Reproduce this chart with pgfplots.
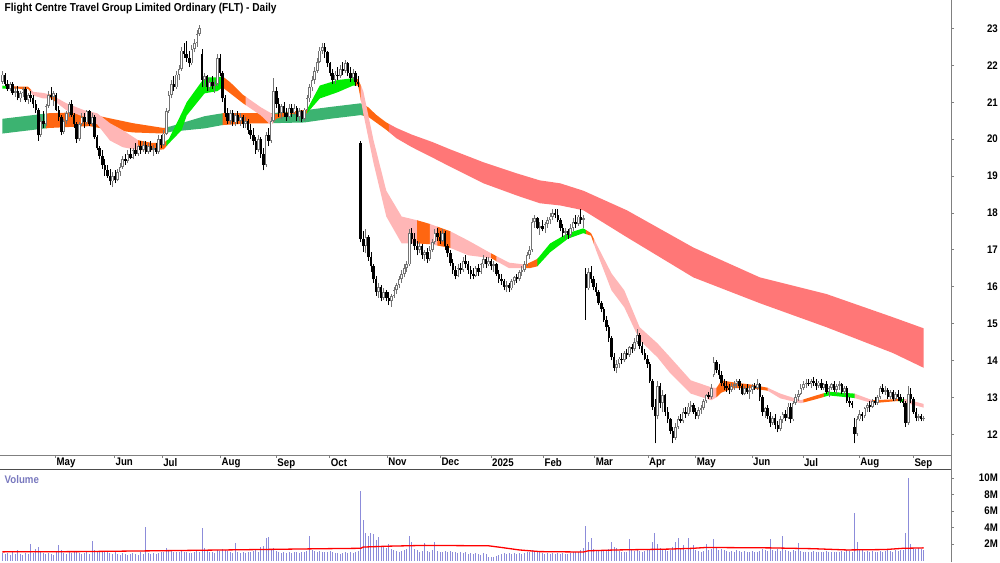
\documentclass[border=0pt]{standalone}
\usepackage{fontspec}
\setmainfont{Liberation Sans}
\newfontfamily\lbl[FakeStretch=0.88]{Liberation Sans}
\usepackage{pgfplots}
\pgfplotsset{compat=1.18}
\usepgfplotslibrary{fillbetween}
\usepackage{pgfplotstable}
\definecolor{sgreen}{RGB}{60,179,113}
\definecolor{ribor}{RGB}{255,102,17}
\definecolor{ribred}{RGB}{255,119,119}
\definecolor{ribpink}{RGB}{255,182,182}
\definecolor{ribgreen}{RGB}{0,238,0}
\definecolor{volc}{RGB}{140,140,218}
\definecolor{axgray}{RGB}{128,128,128}
\definecolor{vollab}{RGB}{120,120,190}

\pgfplotstableread{
i o h l c v
0 21.55 21.85 21.5 21.75 0.9
1 21.75 21.8 21.45 21.5 0.8
2 21.5 21.6 21.3 21.35 0.9
3 21.35 21.55 21.3 21.5 0.7
4 21.5 21.55 21.2 21.25 1.0
5 21.25 21.4 21.15 21.3 0.8
6 21.3 21.45 21.05 21.1 1.3
7 21.1 21.3 21.0 21.25 0.8
8 21.25 21.4 21.15 21.35 0.7
9 21.35 21.4 21.0 21.05 0.9
10 21.05 21.25 20.95 21.2 0.8
11 21.2 21.3 21.0 21.1 2.0
12 21.1 21.2 20.85 20.95 0.9
13 20.95 21.05 20.7 20.8 1.4
14 20.8 20.85 19.95 20.1 1.6
15 20.1 20.6 20.05 20.5 1.1
16 20.5 20.75 20.3 20.4 0.9
17 20.4 20.95 20.35 20.9 0.8
18 20.9 21.3 20.85 21.2 0.9
19 21.2 21.4 21.05 21.15 0.8
20 21.15 21.3 20.9 21.25 0.7
21 21.2 21.25 20.75 20.8 1.0
22 20.8 20.9 20.5 20.6 1.9
23 20.6 20.65 20.1 20.2 1.3
24 20.2 20.55 20.15 20.5 0.9
25 20.5 20.75 20.4 20.7 0.8
26 20.7 21.0 20.6 20.95 1.1
27 20.95 21.05 20.6 20.65 0.9
28 20.65 20.7 20.3 20.4 1.0
29 20.4 20.45 19.9 20.0 1.2
30 20.0 20.45 19.95 20.4 0.9
31 20.4 20.7 20.35 20.6 0.8
32 20.6 20.7 20.3 20.45 0.9
33 20.45 20.8 20.4 20.75 1.0
34 20.75 20.8 20.35 20.4 0.8
35 20.4 20.7 20.35 20.6 2.4
36 20.6 20.65 20.0 20.05 1.3
37 20.05 20.1 19.7 19.75 1.1
38 19.75 19.8 19.45 19.55 1.0
39 19.55 19.7 19.2 19.3 1.2
40 19.3 19.45 19.0 19.15 1.0
41 19.15 19.3 18.95 19.0 1.1
42 19.0 19.2 18.75 18.85 0.9
43 18.85 19.1 18.7 19.0 0.8
44 19.0 19.15 18.8 18.9 1.0
45 18.9 19.2 18.85 19.1 0.8
46 19.1 19.35 19.0 19.25 0.7
47 19.25 19.55 19.2 19.45 0.9
48 19.45 19.6 19.3 19.4 0.8
49 19.4 19.7 19.35 19.6 0.7
50 19.6 19.75 19.45 19.5 0.8
51 19.5 19.75 19.45 19.7 0.9
52 19.7 19.9 19.55 19.6 0.8
53 19.6 19.85 19.55 19.8 0.7
54 19.8 19.95 19.6 19.7 1.0
55 19.7 19.95 19.65 19.85 0.8
56 19.85 19.95 19.6 19.65 4.1
57 19.65 19.9 19.6 19.8 0.9
58 19.8 19.95 19.65 19.7 0.8
59 19.7 19.85 19.55 19.75 0.9
60 19.75 19.9 19.6 19.65 0.8
61 19.65 20.1 19.6 20.0 0.9
62 20.0 20.1 19.75 19.85 1.0
63 19.85 20.25 19.8 20.15 1.1
64 20.15 20.85 20.1 20.75 1.5
65 20.75 21.3 20.7 21.2 1.3
66 21.2 21.6 21.1 21.5 1.2
67 21.5 21.7 21.3 21.4 1.0
68 21.4 21.85 21.35 21.75 1.1
69 21.75 22.0 21.6 21.9 1.0
70 21.9 22.5 21.85 22.4 1.3
71 22.4 22.6 22.2 22.3 1.1
72 22.3 22.65 22.1 22.2 1.0
73 22.2 22.4 21.95 22.05 0.9
74 22.05 22.55 22.0 22.45 0.9
75 22.45 22.7 22.35 22.6 1.0
76 22.6 22.95 22.5 22.85 1.2
77 22.85 23.1 22.8 23.0 1.1
78 22.3 22.45 21.4 21.6 3.9
79 21.6 21.8 21.4 21.7 1.5
80 21.7 21.75 21.3 21.4 1.2
81 21.4 21.65 21.3 21.55 1.0
82 21.55 21.7 21.35 21.45 1.1
83 21.45 21.6 21.25 21.5 0.9
84 21.5 22.3 21.45 22.2 1.3
85 22.2 22.3 21.7 21.8 1.2
86 21.8 21.85 21.0 21.1 1.4
87 21.1 21.2 20.6 20.7 1.3
88 20.7 20.85 20.4 20.5 1.2
89 20.5 20.8 20.4 20.7 1.0
90 20.7 20.8 20.35 20.45 0.9
91 20.45 20.7 20.35 20.65 2.1
92 20.65 20.75 20.4 20.5 1.0
93 20.5 20.7 20.35 20.6 0.9
94 20.6 20.65 20.3 20.4 1.0
95 20.4 20.6 20.3 20.5 0.9
96 20.5 20.55 20.15 20.25 1.1
97 20.25 20.4 20.0 20.1 1.0
98 20.1 20.3 19.85 19.95 1.2
99 19.95 20.05 19.6 19.7 1.4
100 19.7 20.1 19.65 20.0 1.1
101 20.0 20.05 19.5 19.6 1.6
102 19.6 19.75 19.15 19.3 1.8
103 19.3 20.2 19.25 20.1 2.8
104 20.1 20.3 19.8 19.95 2.9
105 19.95 20.6 19.9 20.5 1.3
106 20.5 21.65 20.45 21.3 1.5
107 21.3 21.4 20.85 20.95 1.2
108 20.95 21.1 20.6 20.7 1.0
109 20.7 20.95 20.55 20.9 0.9
110 20.9 21.0 20.6 20.7 1.1
111 20.7 20.85 20.5 20.6 0.9
112 20.6 20.95 20.55 20.85 1.0
113 20.85 20.95 20.6 20.7 0.9
114 20.7 20.95 20.65 20.85 1.0
115 20.85 20.9 20.5 20.6 1.1
116 20.6 20.85 20.5 20.75 0.9
117 20.75 20.8 20.45 20.55 1.0
118 20.55 20.85 20.5 20.8 1.1
119 20.8 21.2 20.75 21.1 1.2
120 21.1 21.5 21.0 21.4 3.0
121 21.4 21.7 21.3 21.6 1.3
122 21.6 21.95 21.5 21.85 1.2
123 21.85 22.2 21.8 22.1 1.1
124 22.1 22.5 22.05 22.4 1.2
125 22.4 22.6 22.3 22.5 1.0
126 22.5 22.6 22.2 22.35 1.1
127 22.35 22.4 21.95 22.05 1.0
128 22.05 22.1 21.7 21.8 1.2
129 21.8 21.9 21.5 21.6 1.0
130 21.6 21.85 21.5 21.75 0.9
131 21.75 21.95 21.6 21.7 0.9
132 21.7 22.0 21.65 21.9 0.8
133 21.9 22.1 21.75 21.85 0.9
134 21.85 22.15 21.8 22.05 1.0
135 22.05 22.1 21.7 21.8 0.9
136 21.8 21.95 21.55 21.65 1.0
137 21.65 21.9 21.6 21.8 0.9
138 21.8 21.85 21.45 21.55 1.1
139 21.55 21.7 21.4 21.5 1.2
140 19.9 19.95 17.2 17.3 8.4
141 17.3 17.5 16.95 17.1 4.9
142 17.1 17.55 16.9 17.35 3.3
143 17.35 17.4 16.7 16.8 3.0
144 16.8 16.95 16.4 16.55 3.3
145 16.55 16.6 16.1 16.2 3.2
146 16.2 16.3 15.75 15.85 2.5
147 15.85 16.1 15.7 16.0 2.9
148 16.0 16.05 15.6 15.7 1.8
149 15.7 15.95 15.65 15.85 1.6
150 15.85 15.9 15.6 15.7 1.5
151 15.7 15.85 15.5 15.6 2.0
152 15.6 15.8 15.45 15.75 1.4
153 15.75 16.0 15.7 15.9 1.3
154 15.9 16.1 15.8 16.05 1.2
155 16.05 16.3 15.95 16.2 1.1
156 16.2 16.45 16.1 16.35 1.2
157 16.35 16.6 16.25 16.5 1.3
158 16.5 16.7 16.4 16.6 1.4
159 16.6 17.55 16.55 17.45 3.0
160 17.45 17.6 17.15 17.3 2.3
161 17.3 17.45 17.0 17.1 1.4
162 17.1 17.25 16.85 17.0 1.3
163 17.0 17.2 16.9 17.1 1.1
164 17.1 17.15 16.75 16.85 1.2
165 16.85 17.0 16.7 16.95 2.1
166 16.95 17.05 16.65 16.75 1.2
167 16.75 17.1 16.7 17.0 1.1
168 17.0 17.3 16.95 17.2 1.3
169 17.2 17.55 17.15 17.45 2.3
170 17.45 17.6 17.25 17.35 1.2
171 17.35 17.5 17.15 17.25 1.1
172 17.25 17.55 17.2 17.45 1.0
173 17.45 17.5 17.0 17.1 1.2
174 17.1 17.15 16.8 16.9 1.1
175 16.9 17.0 16.55 16.65 1.2
176 16.65 16.75 16.35 16.45 1.0
177 16.45 16.55 16.2 16.3 1.1
178 16.3 16.6 16.25 16.5 0.9
179 16.5 16.65 16.35 16.45 1.0
180 16.45 16.8 16.4 16.7 0.9
181 16.7 16.85 16.5 16.6 1.0
182 16.6 16.7 16.35 16.45 0.8
183 16.45 16.55 16.2 16.35 0.9
184 16.35 16.5 16.2 16.3 0.8
185 16.3 16.55 16.25 16.5 0.9
186 16.5 16.6 16.3 16.4 0.8
187 16.4 16.65 16.35 16.6 0.7
188 16.6 16.85 16.5 16.75 0.9
189 16.75 16.8 16.5 16.6 0.8
190 16.6 16.8 16.55 16.7 0.5
191 16.7 16.75 16.45 16.55 0.4
192 16.55 16.7 16.4 16.6 0.5
193 16.6 16.65 16.3 16.35 0.6
194 16.35 16.45 16.1 16.2 0.7
195 16.2 16.35 16.05 16.15 0.8
196 16.15 16.2 15.9 16.0 0.9
197 16.0 16.15 15.85 16.05 0.8
198 16.05 16.1 15.85 15.95 0.9
199 15.95 16.2 15.9 16.15 0.8
200 16.15 16.3 16.05 16.25 0.9
201 16.25 16.35 16.1 16.2 0.8
202 16.2 16.45 16.15 16.4 0.9
203 16.4 16.55 16.3 16.45 0.8
204 16.45 16.7 16.4 16.6 0.9
205 16.6 16.95 16.55 16.85 1.0
206 16.85 17.1 16.75 17.0 1.1
207 17.0 17.85 16.95 17.75 1.3
208 17.75 17.95 17.6 17.85 1.2
209 17.85 17.9 17.55 17.6 1.1
210 17.6 17.75 17.4 17.65 1.0
211 17.65 17.8 17.5 17.55 0.9
212 17.55 17.75 17.45 17.7 0.8
213 17.7 17.9 17.6 17.8 0.9
214 17.8 18.0 17.7 17.9 0.8
215 17.9 18.1 17.8 18.0 0.9
216 18.0 18.1 17.85 17.95 0.8
217 17.95 18.1 17.75 17.8 0.9
218 17.8 17.85 17.5 17.6 0.8
219 17.6 17.7 17.35 17.45 0.9
220 17.45 17.6 17.3 17.5 0.8
221 17.5 17.55 17.3 17.4 0.8
222 17.4 17.7 17.35 17.6 0.9
223 17.6 17.85 17.5 17.75 1.0
224 17.75 17.95 17.6 17.7 1.1
225 17.7 17.95 17.65 17.9 1.0
226 17.9 18.1 17.7 17.8 1.3
227 17.8 17.95 17.6 17.85 1.5
228 16.35 16.5 15.1 15.95 4.2
229 15.95 16.5 15.9 16.4 2.2
230 16.4 16.55 16.1 16.2 2.8
231 16.2 16.3 15.9 16.0 1.4
232 16.0 16.1 15.75 15.85 1.2
233 15.85 15.9 15.5 15.55 1.3
234 15.55 15.6 15.3 15.4 1.2
235 15.4 15.45 15.05 15.1 1.3
236 15.1 15.2 14.8 14.9 1.3
237 14.9 14.95 14.5 14.6 1.4
238 14.6 14.65 14.0 14.1 2.2
239 14.1 14.2 13.7 13.8 1.6
240 13.8 14.0 13.65 13.9 1.5
241 13.9 14.1 13.8 14.05 1.2
242 14.05 14.2 13.9 14.0 1.1
243 14.0 14.25 13.95 14.2 1.0
244 14.2 14.3 14.05 14.15 1.0
245 14.15 14.4 14.1 14.35 2.6
246 14.35 14.45 14.2 14.3 1.3
247 14.3 14.6 14.25 14.5 1.2
248 14.5 14.85 14.45 14.7 1.3
249 14.7 14.75 14.3 14.4 1.2
250 14.4 14.5 14.15 14.2 1.1
251 14.2 14.3 14.0 14.05 1.2
252 14.05 14.15 13.8 13.9 1.3
253 13.9 13.95 13.4 13.45 1.4
254 13.45 13.5 12.65 12.75 2.2
255 12.75 12.95 11.75 12.5 3.3
256 12.5 13.45 12.4 13.3 2.0
257 13.3 13.4 12.7 12.85 1.5
258 12.85 13.2 12.6 13.05 1.4
259 13.05 13.1 12.5 12.6 1.3
260 12.6 12.75 12.3 12.4 1.2
261 12.4 12.45 12.0 12.1 1.3
262 12.1 12.2 11.75 11.9 1.6
263 11.9 12.3 11.85 12.2 2.2
264 12.2 12.5 12.15 12.4 2.8
265 12.4 12.55 12.3 12.35 1.5
266 12.35 12.7 12.3 12.6 1.9
267 12.6 12.75 12.45 12.55 1.3
268 12.55 12.85 12.5 12.75 2.7
269 12.75 12.9 12.6 12.8 1.4
270 12.8 12.85 12.55 12.6 1.9
271 12.6 12.7 12.4 12.5 1.3
272 12.5 12.75 12.4 12.65 1.2
273 12.65 12.8 12.55 12.7 1.1
274 12.7 12.95 12.65 12.9 1.2
275 12.9 13.1 12.85 13.05 2.0
276 13.05 13.15 12.95 13.0 1.3
277 13.0 13.35 12.95 13.25 1.4
278 13.6 14.1 13.55 13.95 2.6
279 13.95 14.0 13.65 13.75 1.5
280 13.75 13.9 13.5 13.6 1.3
281 13.6 13.7 13.3 13.4 1.4
282 13.4 13.5 13.2 13.3 1.3
283 13.3 13.45 13.15 13.25 1.2
284 13.25 13.35 13.1 13.2 1.1
285 13.2 13.4 13.15 13.3 1.2
286 13.3 13.45 13.2 13.35 1.1
287 13.35 13.5 13.25 13.45 1.3
288 13.45 13.5 13.2 13.3 1.2
289 13.3 13.35 13.05 13.1 1.1
290 13.1 13.3 13.05 13.25 1.2
291 13.25 13.35 13.1 13.15 1.1
292 13.15 13.3 12.95 13.2 1.0
293 13.2 13.35 13.1 13.3 1.2
294 13.3 13.4 13.2 13.25 1.1
295 13.25 13.5 13.2 13.35 1.0
296 13.35 13.4 12.9 13.0 1.2
297 13.0 13.05 12.5 12.6 1.4
298 12.6 12.75 12.45 12.7 1.3
299 12.7 12.8 12.4 12.5 1.2
300 12.5 12.6 12.2 12.3 2.6
301 12.3 12.5 12.25 12.45 1.3
302 12.45 12.55 12.15 12.25 1.2
303 12.25 12.35 12.05 12.15 1.4
304 12.15 12.5 12.1 12.4 1.2
305 12.4 12.6 12.3 12.55 3.0
306 12.55 12.65 12.35 12.45 1.3
307 12.45 12.85 12.4 12.75 1.2
308 12.75 12.85 12.3 12.4 1.1
309 12.4 12.9 12.35 12.85 1.3
310 12.85 13.1 12.8 13.0 1.2
311 13.0 13.2 12.9 13.1 2.1
312 13.1 13.35 13.05 13.25 1.2
313 13.25 13.45 13.2 13.35 1.1
314 13.35 13.5 13.25 13.4 1.0
315 13.4 13.5 13.3 13.35 1.1
316 13.35 13.5 13.25 13.45 1.0
317 13.45 13.55 13.3 13.4 1.2
318 13.4 13.5 13.2 13.3 1.1
319 13.3 13.45 13.25 13.4 1.0
320 13.4 13.5 13.2 13.25 1.1
321 13.25 13.4 13.2 13.35 1.0
322 13.35 13.45 13.1 13.15 1.2
323 13.15 13.3 13.0 13.25 1.1
324 13.25 13.4 13.2 13.35 1.0
325 13.35 13.45 13.15 13.2 1.1
326 13.2 13.35 13.1 13.3 1.1
327 13.3 13.45 13.2 13.35 1.0
328 13.35 13.4 13.1 13.15 1.2
329 13.15 13.3 13.05 13.25 1.1
330 13.25 13.3 12.85 12.9 1.3
331 12.9 13.0 12.75 12.85 1.2
332 12.85 12.9 12.7 12.8 1.1
333 12.2 12.45 11.75 12.0 5.8
334 12.0 12.5 11.95 12.4 2.2
335 12.4 12.65 12.35 12.55 1.4
336 12.55 12.6 12.35 12.5 1.3
337 12.5 12.75 12.45 12.7 1.1
338 12.7 12.85 12.6 12.8 1.2
339 12.8 12.9 12.6 12.75 1.1
340 12.75 12.95 12.7 12.9 1.2
341 12.9 13.0 12.8 12.85 1.0
342 12.85 13.05 12.8 13.0 1.1
343 13.0 13.3 12.95 13.25 1.2
344 13.25 13.35 13.1 13.15 1.1
345 13.15 13.3 13.05 13.2 1.2
346 13.2 13.25 12.95 13.0 1.3
347 13.0 13.2 12.95 13.15 1.2
348 13.15 13.2 12.9 12.95 1.1
349 12.95 13.15 12.9 13.1 1.3
350 13.1 13.2 12.9 13.0 1.2
351 13.0 13.1 12.85 12.9 1.3
352 12.9 13.0 12.75 12.85 1.3
353 12.85 12.9 12.2 12.3 3.3
354 12.3 13.3 12.25 13.1 10.0
355 13.1 13.25 12.85 12.95 2.0
356 12.95 13.0 12.55 12.6 1.5
357 12.6 12.7 12.35 12.45 1.4
358 12.45 12.55 12.35 12.5 1.5
359 12.5 12.55 12.35 12.4 1.4
360 12.4 12.5 12.35 12.45 1.3
}\candles

\begin{document}
\begin{tikzpicture}[x=1pt,y=1pt]
\node[anchor=west, inner sep=0pt, font=\lbl\bfseries\fontsize{11.5}{13}\selectfont] at (4pt,-8pt) {Flight Centre Travel Group Limited Ordinary (FLT) - Daily};
\begin{axis}[
  at={(0pt,0pt)}, anchor=north west, scale only axis,
  width=951pt, height=455pt,
  xmin=-0.78, xmax=370.7, ymin=11.431, ymax=23.759,
  axis x line*=bottom, axis y line*=right,
  axis line style={-, draw=axgray, line width=0.8pt},
  tick align=outside, major tick length=3pt,
  tick style={draw=axgray, line width=0.6pt},
  xtick={20.7,43.75,62.4,85.2,107.0,127.9,150.3,171.1,190.9,211.4,231.4,252.2,270.9,292.9,312.8,334.8,355.97},
  xticklabels={May,Jun,Jul,Aug,Sep,Oct,Nov,Dec,2025,Feb,Mar,Apr,May,Jun,Jul,Aug,Sep},
  xticklabel style={anchor=north west, inner sep=0pt, xshift=1pt, yshift=0pt, font=\lbl\bfseries\fontsize{11}{12}\selectfont},
  ytick={12,13,...,23},
  yticklabel style={anchor=east, inner sep=0pt, xshift=44pt, font=\lbl\bfseries\fontsize{11}{12}\selectfont},
  /pgf/number format/assume math mode=true,
]
% long ribbon
\addplot[draw=none, name path=LU, forget plot] coordinates {(0,20.55) (12,20.65) (18,20.70) (27,20.72) (34,20.70) (38,20.62) (51,20.43) (63,20.30) (66,20.35) (79,20.62) (86,20.70) (95,20.70) (105,20.70) (118,20.78) (128,20.87) (140,20.97) (143,20.86) (146,20.66) (150,20.45) (154,20.30) (160,20.12) (168,19.92) (175,19.72) (188,19.37) (201,19.07) (210,18.88) (218,18.80) (227,18.60) (244,18.07) (270,17.06) (296,16.25) (322,15.80) (348,15.17) (360,14.87)};
\addplot[draw=none, name path=LL, forget plot] coordinates {(0,20.15) (12,20.25) (18,20.30) (27,20.33) (34,20.35) (38,20.30) (51,20.18) (63,20.15) (66,20.20) (79,20.29) (86,20.38) (95,20.42) (105,20.43) (118,20.45) (128,20.55) (140,20.65) (143,20.60) (146,20.45) (150,20.25) (154,20.02) (160,19.78) (168,19.50) (175,19.25) (188,18.80) (201,18.47) (210,18.26) (218,18.20) (227,18.07) (244,17.34) (270,16.25) (296,15.55) (322,14.90) (348,14.20) (360,13.80)};
\addplot[fill=sgreen, draw=none] fill between[of=LU and LL, soft clip={domain=0:17.2}];
\addplot[fill=ribor, draw=none] fill between[of=LU and LL, soft clip={domain=17:64.2}];
\addplot[fill=sgreen, draw=none] fill between[of=LU and LL, soft clip={domain=64:86.2}];
\addplot[fill=ribor, draw=none] fill between[of=LU and LL, soft clip={domain=86:105.2}];
\addplot[fill=sgreen, draw=none] fill between[of=LU and LL, soft clip={domain=105:141.2}];
\addplot[fill=ribor, draw=none] fill between[of=LU and LL, soft clip={domain=141:151.2}];
\addplot[fill=ribred, draw=none] fill between[of=LU and LL, soft clip={domain=151:360}];
% short ribbon
\addplot[draw=none, name path=SU, forget plot] coordinates {(0,21.45) (2,21.43) (10,21.42) (12,21.28) (16,21.25) (19,21.20) (25,20.97) (32,20.78) (37,20.70) (42,20.43) (47,20.24) (53,19.97) (58,19.90) (63,19.90) (65,20.00) (70,20.70) (72,21.00) (79,21.67) (84,21.67) (86,21.70) (89,21.54) (94,21.20) (101,20.86) (105,20.70) (107,20.68) (113,20.74) (119,20.80) (124,21.45) (131,21.60) (137,21.65) (139,21.62) (141,21.30) (145,19.97) (150,18.60) (156,17.90) (162,17.80) (167,17.70) (175,17.50) (182,17.25) (191,16.90) (198,16.65) (204,16.60) (206,16.65) (209,16.75) (214,17.17) (221,17.45) (227,17.58) (230,17.45) (232,17.17) (238,16.36) (243,15.90) (249,14.90) (256,14.46) (261,14.08) (269,13.46) (277,13.27) (279,13.25) (281,13.46) (286,13.40) (292,13.35) (299,13.26) (304,13.10) (312,12.92) (318,13.05) (323,13.15) (333,13.10) (340,12.92) (350,12.95) (353,12.95) (360,12.82)};
\addplot[draw=none, name path=SL, forget plot] coordinates {(0,21.37) (2,21.37) (10,21.36) (12,21.18) (16,21.10) (19,21.10) (25,20.78) (32,20.60) (37,20.40) (42,19.96) (47,19.78) (53,19.70) (58,19.70) (63,19.72) (65,19.88) (70,20.24) (72,20.64) (79,21.24) (84,21.30) (86,21.40) (89,21.24) (94,20.97) (101,20.64) (105,20.37) (107,20.55) (113,20.68) (119,20.70) (124,21.10) (131,21.27) (137,21.45) (139,21.45) (141,20.70) (145,19.35) (150,17.90) (156,17.17) (162,17.17) (167,17.15) (175,17.05) (182,16.85) (191,16.77) (198,16.50) (204,16.50) (206,16.50) (209,16.55) (214,16.93) (221,17.30) (227,17.45) (230,17.38) (232,16.98) (238,15.90) (243,15.44) (249,14.55) (256,14.08) (261,13.65) (269,13.10) (277,12.92) (279,13.00) (281,13.13) (286,13.25) (292,13.25) (299,13.18) (304,12.97) (312,12.84) (318,12.95) (323,13.05) (333,12.98) (340,12.84) (350,12.90) (353,12.85) (360,12.72)};
\addplot[fill=ribgreen, draw=none] fill between[of=SU and SL, soft clip={domain=0:2.2}];
\addplot[fill=ribor, draw=none] fill between[of=SU and SL, soft clip={domain=2:11.2}];
\addplot[fill=ribpink, draw=none] fill between[of=SU and SL, soft clip={domain=11:18.2}];
\addplot[fill=ribor, draw=none] fill between[of=SU and SL, soft clip={domain=18:21.2}];
\addplot[fill=ribpink, draw=none] fill between[of=SU and SL, soft clip={domain=21:53.2}];
\addplot[fill=ribor, draw=none] fill between[of=SU and SL, soft clip={domain=53:64.2}];
\addplot[fill=ribgreen, draw=none] fill between[of=SU and SL, soft clip={domain=64:86.2}];
\addplot[fill=ribor, draw=none] fill between[of=SU and SL, soft clip={domain=86:95.2}];
\addplot[fill=ribpink, draw=none] fill between[of=SU and SL, soft clip={domain=95:106.2}];
\addplot[fill=ribor, draw=none] fill between[of=SU and SL, soft clip={domain=106:119.2}];
\addplot[fill=ribgreen, draw=none] fill between[of=SU and SL, soft clip={domain=119:138.2}];
\addplot[fill=ribor, draw=none] fill between[of=SU and SL, soft clip={domain=138:140.2}];
\addplot[fill=ribpink, draw=none] fill between[of=SU and SL, soft clip={domain=140:162.2}];
\addplot[fill=ribor, draw=none] fill between[of=SU and SL, soft clip={domain=162:167.2}];
\addplot[fill=ribpink, draw=none] fill between[of=SU and SL, soft clip={domain=167:170.2}];
\addplot[fill=ribor, draw=none] fill between[of=SU and SL, soft clip={domain=170:175.2}];
\addplot[fill=ribpink, draw=none] fill between[of=SU and SL, soft clip={domain=175:191.2}];
\addplot[fill=ribor, draw=none] fill between[of=SU and SL, soft clip={domain=191:193.2}];
\addplot[fill=ribpink, draw=none] fill between[of=SU and SL, soft clip={domain=193:204.2}];
\addplot[fill=ribor, draw=none] fill between[of=SU and SL, soft clip={domain=204:209.2}];
\addplot[fill=ribgreen, draw=none] fill between[of=SU and SL, soft clip={domain=209:228.2}];
\addplot[fill=ribor, draw=none] fill between[of=SU and SL, soft clip={domain=228:231.2}];
\addplot[fill=ribpink, draw=none] fill between[of=SU and SL, soft clip={domain=231:279.2}];
\addplot[fill=ribor, draw=none] fill between[of=SU and SL, soft clip={domain=279:299.2}];
\addplot[fill=ribpink, draw=none] fill between[of=SU and SL, soft clip={domain=299:313.2}];
\addplot[fill=ribor, draw=none] fill between[of=SU and SL, soft clip={domain=313:321.2}];
\addplot[fill=ribgreen, draw=none] fill between[of=SU and SL, soft clip={domain=321:333.2}];
\addplot[fill=ribpink, draw=none] fill between[of=SU and SL, soft clip={domain=333:340.2}];
\addplot[fill=ribor, draw=none] fill between[of=SU and SL, soft clip={domain=340:350.2}];
\addplot[fill=ribgreen, draw=none] fill between[of=SU and SL, soft clip={domain=350:352.2}];
\addplot[fill=ribpink, draw=none] fill between[of=SU and SL, soft clip={domain=352:360}];
% candle wicks
\addplot[draw=none, mark=none, forget plot, error bars/.cd, y dir=plus, y explicit, error mark=none,
  error bar style={line width=0.9pt, draw=black!55}]
  table[x=i, y=l, y error expr={\thisrow{c}>=\thisrow{o} ? \thisrow{h}-\thisrow{l} : 0}] {\candles};
\addplot[draw=none, mark=none, forget plot, error bars/.cd, y dir=plus, y explicit, error mark=none,
  error bar style={line width=0.9pt, draw=black}]
  table[x=i, y=l, y error expr={\thisrow{c}<\thisrow{o} ? \thisrow{h}-\thisrow{l} : 0}] {\candles};
% bodies
\addplot[draw=none, mark=none, forget plot, error bars/.cd, y dir=plus, y explicit, error mark=none,
  error bar style={line width=2.5pt, draw=black}]
  table[x=i, y=c, y error expr={\thisrow{o}>\thisrow{c} ? \thisrow{o}-\thisrow{c} : 0}] {\candles};
\addplot[draw=none, mark=none, forget plot, error bars/.cd, y dir=plus, y explicit, error mark=none,
  error bar style={line width=2.6pt, draw=black!55}]
  table[x=i, y=o, y error expr={\thisrow{c}>\thisrow{o} ? \thisrow{c}-\thisrow{o} : 0}] {\candles};
\addplot[draw=none, mark=none, forget plot, error bars/.cd, y dir=plus, y explicit, error mark=none,
  error bar style={line width=1.0pt, draw=white}]
  table[x=i, y expr=\thisrow{o}+0.025, y error expr={\thisrow{c}-\thisrow{o}>0.06 ? \thisrow{c}-\thisrow{o}-0.05 : 0}] {\candles};
\end{axis}

\begin{axis}[
  at={(0pt,-469pt)}, anchor=north west, scale only axis,
  width=951pt, height=93pt,
  xmin=-0.78, xmax=370.7, ymin=-0.17, ymax=11.05,
  axis x line*=bottom, axis y line*=right,
  axis line style={-, draw=axgray, line width=0.8pt},
  x axis line style={draw=none},
  tick align=outside, major tick length=3pt,
  tick style={draw=axgray, line width=0.6pt},
  xtick=\empty,
  ytick={2,4,6,8,10}, yticklabels={2M,4M,6M,8M,10M},
  yticklabel style={anchor=east, inner sep=0pt, xshift=44pt, font=\lbl\bfseries\fontsize{11}{12}\selectfont},
]
\addplot[ycomb, draw=volc, line width=1pt, mark=none] table[x=i, y=v] {\candles};
\addplot[draw=red, line width=1.3pt, mark=none] coordinates {(0,1.07) (30,1.1) (60,1.2) (100,1.35) (125,1.45) (140,1.5) (141,1.65) (150,1.75) (165,1.85) (190,1.8) (195,1.6) (202,1.3) (210,1.1) (227,1.05) (229,1.2) (240,1.3) (260,1.4) (270,1.5) (275,1.6) (300,1.55) (317,1.45) (330,1.3) (345,1.35) (352,1.5) (360,1.55)};
\end{axis}
\draw[black!70, line width=1pt] (0pt,-469pt) -- (951pt,-469pt);
\draw[axgray, line width=0.8pt] (951pt,-455pt) -- (951pt,-469pt);
\node[anchor=west, inner sep=0pt, text=vollab, font=\lbl\bfseries\fontsize{11}{12}\selectfont] at (4pt,-479pt) {Volume};
\path (0pt,0pt) rectangle (1000pt,-562pt);
\end{tikzpicture}
\end{document}
